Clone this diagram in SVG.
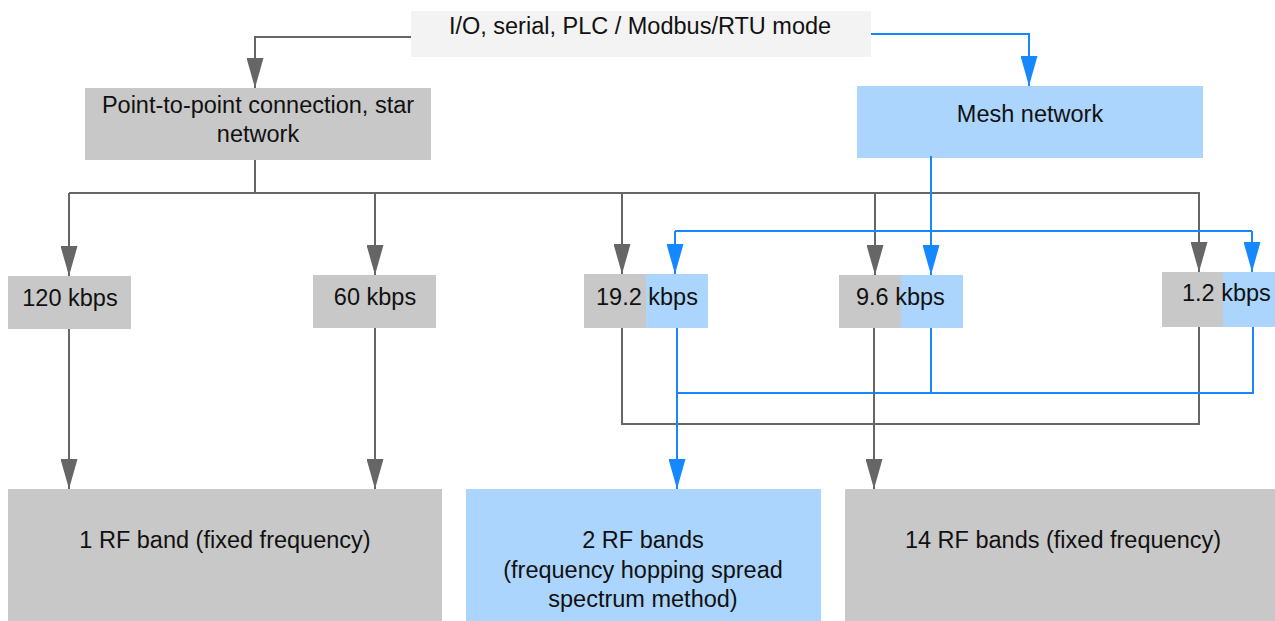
<svg xmlns="http://www.w3.org/2000/svg" width="1275" height="621" viewBox="0 0 1275 621">
<style>
text{font-family:"Liberation Sans",Arial,Helvetica,sans-serif;font-size:23.5px;fill:#111}
.c{text-anchor:middle}
.g{fill:#c8c8c8}
.b{fill:#acd5fd}
.lg{fill:none;stroke:#666;stroke-width:2}
.lb{fill:none;stroke:#1688ff;stroke-width:2}
</style>
<defs>
<marker id="ag" viewBox="0 0 30 17" refX="30" refY="8.5" markerWidth="30" markerHeight="17" markerUnits="userSpaceOnUse" orient="auto"><path d="M0,0 L30,8.5 L0,17 z" fill="#666"/></marker>
<marker id="ab" viewBox="0 0 30 17" refX="30" refY="8.5" markerWidth="30" markerHeight="17" markerUnits="userSpaceOnUse" orient="auto"><path d="M0,0 L30,8.5 L0,17 z" fill="#1688ff"/></marker>
</defs>
<rect width="1275" height="621" fill="#fff"/>
<g id="top"><rect x="411" y="11" width="460" height="46" fill="#f3f3f3"/><text class="c" x="640" y="34">I/O, serial, PLC / Modbus/RTU mode</text></g>
<g id="p2p"><rect class="g" x="85" y="88" width="346" height="72"/><text class="c" x="258" y="112.5">Point-to-point connection, star</text><text class="c" x="258" y="141.5">network</text></g>
<g id="mesh"><rect class="b" x="857" y="86" width="346" height="72"/><text class="c" x="1030" y="121.5">Mesh network</text></g>
<g id="k120"><rect class="g" x="8" y="276" width="123" height="53"/><text class="c" x="70" y="306">120 kbps</text></g>
<g id="k60"><rect class="g" x="313" y="275" width="123" height="53"/><text class="c" x="375" y="305">60 kbps</text></g>
<g id="k19"><rect class="g" x="584" y="274" width="62" height="54"/><rect class="b" x="646" y="274" width="62" height="54"/><text x="596" y="305">19.2 kbps</text></g>
<g id="k96"><rect class="g" x="839" y="275" width="62" height="53"/><rect class="b" x="901" y="275" width="62" height="53"/><text x="856" y="305">9.6 kbps</text></g>
<g id="k12"><rect class="g" x="1162" y="272" width="61" height="55"/><rect class="b" x="1223" y="272" width="52" height="55"/><text x="1182" y="301">1.2 kbps</text></g>
<g id="rf1"><rect class="g" x="8" y="489" width="434" height="132"/><text class="c" x="225" y="548">1 RF band (fixed frequency)</text></g>
<g id="rf2"><rect class="b" x="466" y="489" width="355" height="132"/><text class="c" x="643" y="548">2 RF bands</text><text class="c" x="643" y="577.5">(frequency hopping spread</text><text class="c" x="643" y="607">spectrum method)</text></g>
<g id="rf14"><rect class="g" x="845" y="489" width="430" height="132"/><text class="c" x="1063" y="548">14 RF bands (fixed frequency)</text></g>
<g id="connectors">
<path class="lg" d="M411,37 H255 V88" marker-end="url(#ag)"/>
<path class="lb" d="M871,34 H1029 V86" marker-end="url(#ab)"/>
<path class="lg" d="M255,160 V193 M69,193 H1200"/>
<path class="lg" d="M69,193 V276" marker-end="url(#ag)"/>
<path class="lg" d="M375,193 V275" marker-end="url(#ag)"/>
<path class="lg" d="M622,193 V274" marker-end="url(#ag)"/>
<path class="lg" d="M875,193 V275" marker-end="url(#ag)"/>
<path class="lg" d="M1199,193 V272" marker-end="url(#ag)"/>
<path class="lb" d="M675,231 H1252"/>
<path class="lb" d="M931,156 V275" marker-end="url(#ab)"/>
<path class="lb" d="M675,231 V274" marker-end="url(#ab)"/>
<path class="lb" d="M1252,231 V272" marker-end="url(#ab)"/>
<path class="lg" d="M622,328 V424 H1199 V327"/>
<path class="lb" d="M931,328 V393 M677,393 H1253 V327"/>
<path class="lg" d="M69,329 V489" marker-end="url(#ag)"/>
<path class="lg" d="M375,328 V489" marker-end="url(#ag)"/>
<path class="lg" d="M874,328 V489" marker-end="url(#ag)"/>
<path class="lb" d="M677,328 V489" marker-end="url(#ab)"/>
</g>
</svg>
